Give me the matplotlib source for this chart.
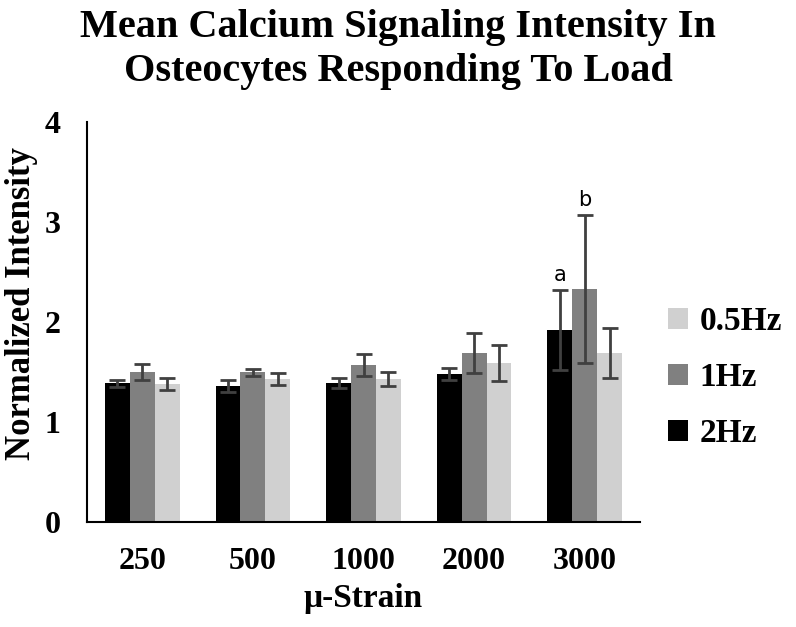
import matplotlib
matplotlib.use('Agg')
import matplotlib.pyplot as plt
import numpy as np

# Data
strains = ['250', '500', '1000', '2000', '3000']
hz2 = [1.39, 1.36, 1.39, 1.48, 1.92]
hz2_err = [0.035, 0.06, 0.05, 0.06, 0.40]
hz1 = [1.50, 1.50, 1.57, 1.69, 2.33]
hz1_err = [0.08, 0.035, 0.11, 0.20, 0.74]
hz05 = [1.38, 1.43, 1.43, 1.59, 1.69]
hz05_err = [0.06, 0.06, 0.07, 0.18, 0.25]
sig_labels = {(0, 4): 'a', (1, 4): 'b'}  # (series, group) -> letter

serif = ['Liberation Serif', 'DejaVu Serif']
fig = plt.figure(figsize=(7.96, 6.27), dpi=100)
ax = fig.add_axes([87 / 796, 105 / 627, 553 / 796, 400 / 627])

x = np.arange(len(strains))
w = 0.225
series = [
    (hz2, hz2_err, '#000000', '2Hz'),
    (hz1, hz1_err, '#808080', '1Hz'),
    (hz05, hz05_err, '#d0d0d0', '0.5Hz'),
]
bars = []
for i, (vals, errs, color, label) in enumerate(series):
    pos = x + (i - 1) * w
    b = ax.bar(pos, vals, width=w, color=color, label=label, zorder=2)
    ax.errorbar(pos, vals, yerr=errs, fmt='none', ecolor='#404040',
                elinewidth=2, capsize=5.5, capthick=2, zorder=3)
    bars.append(b)
    for (s, g), txt in sig_labels.items():
        if s == i:
            ax.text(pos[g], vals[g] + errs[g] + 0.05, txt, ha='center',
                    va='bottom', fontsize=15, family='DejaVu Sans')

ax.set_xlim(-0.5, len(strains) - 0.5)
ax.set_ylim(0, 4)
ax.set_yticks([0, 1, 2, 3, 4])
ax.set_xticks(x)
ax.set_xticklabels(strains)
ax.tick_params(length=0, labelsize=23)
ax.tick_params(axis='x', pad=18)
ax.tick_params(axis='y', pad=19)
for lbl in ax.get_xticklabels() + ax.get_yticklabels():
    lbl.set_family(serif)
    lbl.set_fontweight('bold')
ax.spines['top'].set_visible(False)
ax.spines['right'].set_visible(False)
ax.spines['left'].set_linewidth(1.5)
ax.spines['bottom'].set_linewidth(1.5)

ax.set_xlabel('\u03bc-Strain', fontsize=24, fontweight='bold', family=serif,
              labelpad=5)
ax.set_ylabel('Normalized Intensity', fontsize=25, fontweight='bold',
              family=serif, va='center')
ax.yaxis.set_label_coords(-65 / 553, 0.545)

fig.suptitle('Mean Calcium Signaling Intensity In\nOsteocytes Responding To Load',
             x=0.5, y=0.985, fontsize=29, fontweight='bold', family=serif,
             linespacing=1.25)

handles = [bars[2], bars[1], bars[0]]
leg = ax.legend(handles, ['0.5Hz', '1Hz', '2Hz'], loc='center left',
                bbox_to_anchor=(1.05, 0.36), frameon=False, handlelength=0.6,
                handleheight=0.6, handletextpad=0.35, labelspacing=0.75,
                borderpad=0, borderaxespad=0,
                prop={'family': serif, 'weight': 'bold', 'size': 24})

fig.savefig('out.png', dpi=100)
